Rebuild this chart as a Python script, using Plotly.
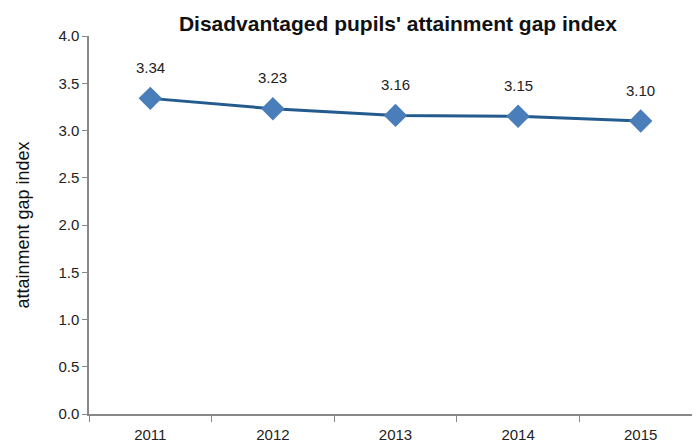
import plotly.graph_objects as go

years = ["2011", "2012", "2013", "2014", "2015"]
gap_index = [3.34, 3.23, 3.16, 3.15, 3.10]
y_ticks = [0.0, 0.5, 1.0, 1.5, 2.0, 2.5, 3.0, 3.5, 4.0]

fig = go.Figure()
fig.add_trace(go.Scatter(
    x=years, y=gap_index, mode="lines+markers",
    line=dict(color="#245B8E", width=3),
    marker=dict(symbol="diamond", size=18, color="#4A7EBB", line=dict(width=0)),
    hoverinfo="x+y", showlegend=False,
))

for i, v in enumerate(gap_index):
    fig.add_annotation(x=i, y=v, xref="x", yref="y", text=f"{v:.2f}", showarrow=False, yshift=31,
                       font=dict(family="Liberation Sans, Arial", size=15, color="#222222"))

fig.update_layout(
    width=700, height=443,
    margin=dict(l=81, r=6, t=28, b=37),
    paper_bgcolor="white", plot_bgcolor="white",
    title=dict(text="<b>Disadvantaged pupils' attainment gap index</b>", x=0.557, xanchor="center",
               y=0.965, yanchor="middle",
               font=dict(family="Liberation Sans, Arial", size=21, color="#111111")),
    font=dict(family="Liberation Sans, Arial", size=15, color="#222222"),
)
fig.update_xaxes(
    type="category", range=[-0.5, 4.5], tickson="boundaries",
    showline=True, linecolor="#888888", linewidth=1.5,
    ticks="outside", ticklen=6, tickcolor="#888888", showgrid=False,
    tickfont=dict(size=15, color="#222222"), ticklabelstandoff=6,
)
fig.update_yaxes(
    range=[0, 4.0], tickvals=y_ticks, ticktext=[f"{t:.1f}" for t in y_ticks],
    showline=True, linecolor="#888888", linewidth=1.5,
    ticks="outside", ticklen=5, tickcolor="#888888", showgrid=False, zeroline=False,
    tickfont=dict(size=15, color="#222222"),
    title=dict(text="attainment gap index", font=dict(size=18, color="#111111"), standoff=24),
)

fig.write_html("out.html")
